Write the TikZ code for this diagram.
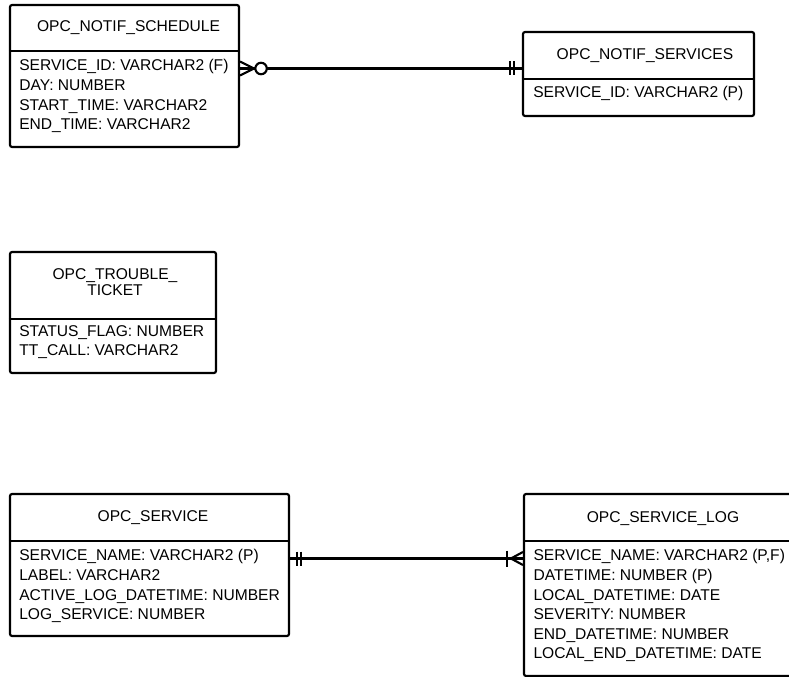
\documentclass[tikz,border=0pt]{standalone}
\usepackage{fontspec}
\setmainfont{Liberation Sans}
\usetikzlibrary{fit}
\newcommand\erfont{\fontsize{11.7}{14.7}\selectfont}
\newcommand\ertitlefont{\fontsize{11.7}{12.5}\selectfont}
\begin{document}
\begin{tikzpicture}
      [x=0.75pt, y=-0.75pt,
      entity/.style={draw=black, line width=1.6pt, rounded corners=1.5pt, inner sep=0pt},
      title/.style={font=\ertitlefont, anchor=north, inner sep=0pt, align=center},
      attrs/.style={font=\erfont, anchor=north west, inner sep=0pt, align=left},
      rel/.style={draw=black, line width=1.6pt},
      ]
      \useasboundingbox (0,0) rectangle (789,677);
      \clip (0,0) rectangle (789,677);
      \coordinate (sched-nw) at (10,5);
      \coordinate (sched-se) at (239,147);
      \coordinate (nsvc-nw) at (523,32);
      \coordinate (nsvc-se) at (754,116);
      \coordinate (tt-nw) at (10,252);
      \coordinate (tt-se) at (216,373);
      \coordinate (svc-nw) at (10,494);
      \coordinate (svc-se) at (289,636);
      \coordinate (slog-nw) at (524,494);
      \coordinate (slog-se) at (800,676);
      \node[entity, fit=(sched-nw)(sched-se)] (sched) {};
      \node[entity, fit=(nsvc-nw)(nsvc-se)] (nsvc) {};
      \node[entity, fit=(tt-nw)(tt-se)] (tt) {};
      \node[entity, fit=(svc-nw)(svc-se)] (svc) {};
      \node[entity, fit=(slog-nw)(slog-se)] (slog) {};
      \draw[rel] (sched.west |- 0,51) -- (sched.east |- 0,51);
      \draw[rel] (nsvc.west |- 0,79) -- (nsvc.east |- 0,79);
      \draw[rel] (tt.west |- 0,319) -- (tt.east |- 0,319);
      \draw[rel] (svc.west |- 0,541) -- (svc.east |- 0,541);
      \draw[rel] (slog.west |- 0,541) -- (slog.east |- 0,541);
      \node[title] (sched-t) at (128.5,20.5) {OPC\_NOTIF\_SCHEDULE};
      \node[title] (nsvc-t) at (645,48.3) {OPC\_NOTIF\_SERVICES};
      \node[title] (tt-t) at (115,268) {OPC\_TROUBLE\_\\TICKET};
      \node[title] (svc-t) at (153,510.5) {OPC\_SERVICE};
      \node[title] (slog-t) at (663,511) {OPC\_SERVICE\_LOG};
      \node[attrs] (sched-a) at (19,59.3) {SERVICE\_ID: VARCHAR2 (F)\\DAY: NUMBER\\START\_TIME: VARCHAR2\\END\_TIME: VARCHAR2};
      \node[attrs] (nsvc-a) at (533,86) {SERVICE\_ID: VARCHAR2 (P)};
      \node[attrs] (tt-a) at (19,325) {STATUS\_FLAG: NUMBER\\TT\_CALL: VARCHAR2};
      \node[attrs] (svc-a) at (19,549.3) {SERVICE\_NAME: VARCHAR2 (P)\\LABEL: VARCHAR2\\ACTIVE\_LOG\_DATETIME: NUMBER\\LOG\_SERVICE: NUMBER};
      \node[attrs] (slog-a) at (533.3,549.3) {SERVICE\_NAME: VARCHAR2 (P,F)\\DATETIME: NUMBER (P)\\LOCAL\_DATETIME: DATE\\SEVERITY: NUMBER\\END\_DATETIME: NUMBER\\LOCAL\_END\_DATETIME: DATE};
      \coordinate (sched-r) at (sched.east |- 0,68.5);
      \coordinate (nsvc-l) at (nsvc.west |- 0,68.5);
      \draw[rel] (sched-r) -- (nsvc-l);
      \draw[rel] (sched-r) ++(0,-7) -- ++(14,7) -- ++(-14,7);
      \draw[rel, fill=white] (sched-r) ++(21,0) circle[radius=4.3pt];
      \draw[rel] (nsvc-l) ++(-12,-7) -- ++(0,14);
      \draw[rel] (nsvc-l) ++(-8,-7) -- ++(0,14);
      \coordinate (svc-r) at (svc.east |- 0,558.5);
      \coordinate (slog-l) at (slog.west |- 0,558.5);
      \draw[rel] (svc-r) -- (slog-l);
      \draw[rel] (svc-r) ++(7,-7) -- ++(0,14);
      \draw[rel] (svc-r) ++(11,-7) -- ++(0,14);
      \draw[rel] (slog-l) ++(-16,-8) -- ++(0,16);
      \draw[rel] (slog-l) ++(0,-6.5) -- ++(-12,6.5) -- ++(12,6.5);
      \end{tikzpicture}
\end{document}
